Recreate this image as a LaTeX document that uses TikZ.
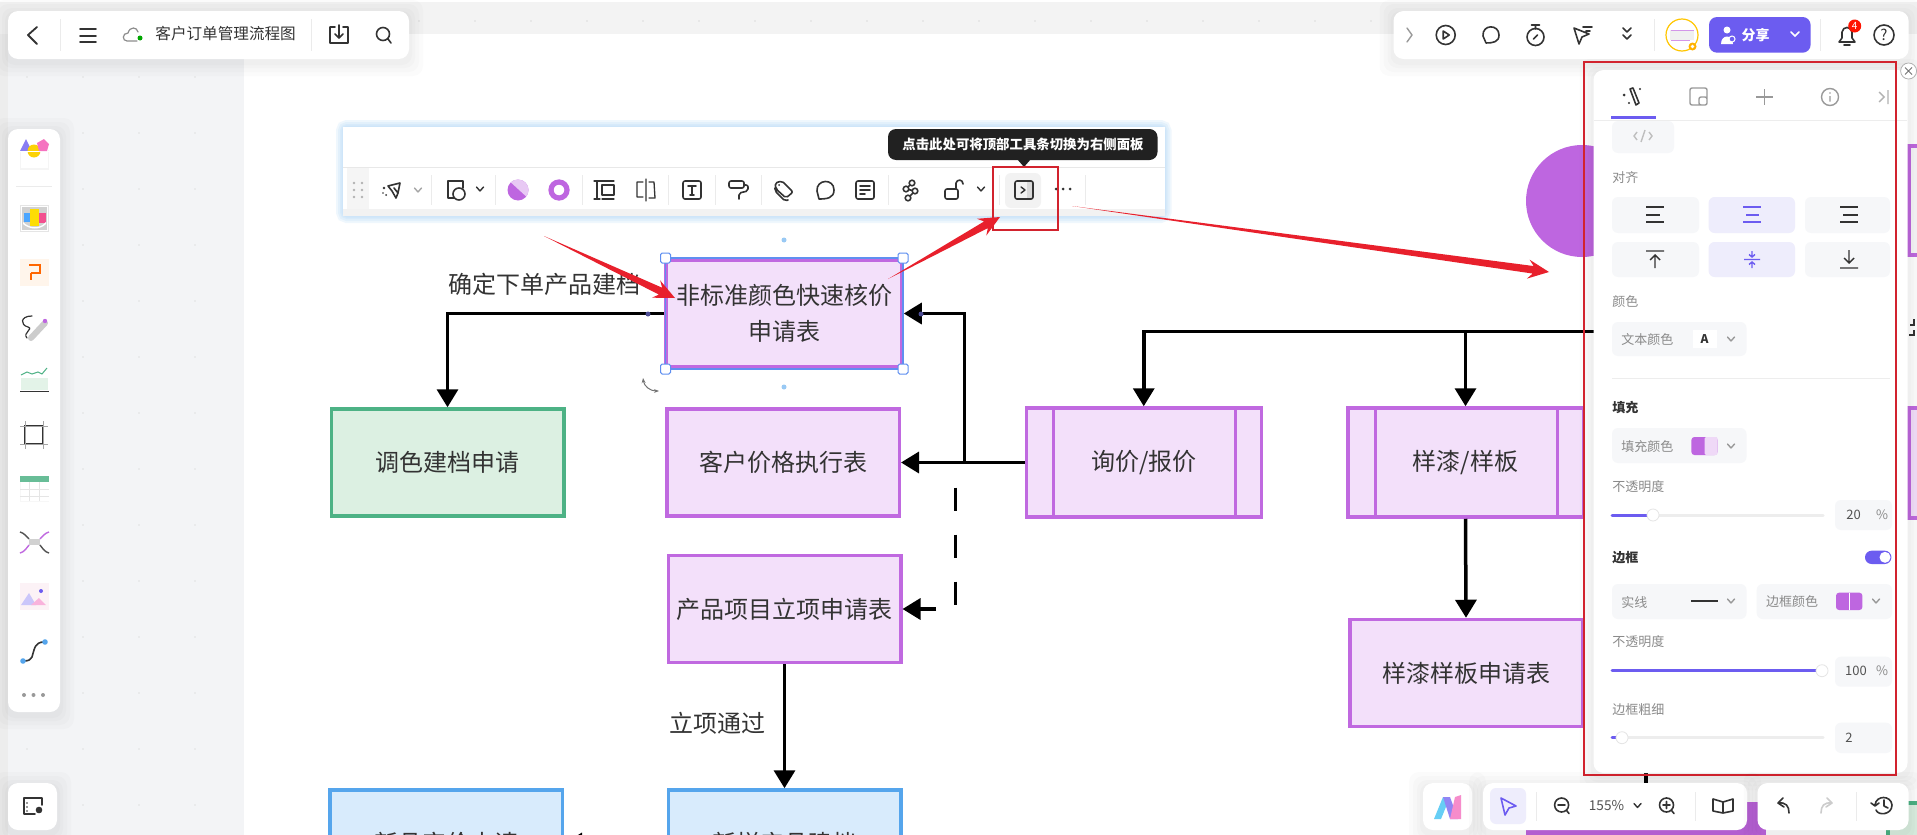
\documentclass[tikz,border=0pt]{standalone}
\usepackage{fontspec}
\setmainfont{Noto Sans CJK SC}
\usetikzlibrary{arrows.meta,calc}
\definecolor{canvas}{HTML}{F3F4F6}
\definecolor{topband}{HTML}{F3F3F3}
\definecolor{purp}{HTML}{C069E0}
\definecolor{purpfill}{HTML}{F3E0FA}
\definecolor{purpsolid}{HTML}{BE66E0}
\definecolor{grn}{HTML}{4DB285}
\definecolor{grnfill}{HTML}{DCF0E2}
\definecolor{blu}{HTML}{55A5EC}
\definecolor{blufill}{HTML}{D8EBFC}
\definecolor{sel}{HTML}{5F8FF0}
\definecolor{uiv}{HTML}{6C5CF0}
\definecolor{redbox}{HTML}{D2232E}
\definecolor{redar}{HTML}{E8202C}
\definecolor{btn}{HTML}{F6F7F9}
\definecolor{btnon}{HTML}{EEEDFC}
\definecolor{ink}{HTML}{333333}
\definecolor{uigray}{HTML}{8A8A8A}
\tikzset{
  box/.style={draw=purp,fill=purpfill,line width=1.75pt,align=center,text=ink,inner sep=0pt,
    font=\fontsize{12}{18}\selectfont,minimum width=116.25pt,minimum height=53.5pt},
  gbox/.style={box,draw=grn,fill=grnfill},
  bbox/.style={box,draw=blu,fill=blufill},
  lab/.style={text=ink,inner sep=0pt,anchor=west,font=\fontsize{12}{18}\selectfont},
  conn/.style={draw=black,line width=1.75pt,-{Triangle[length=9pt,width=10.5pt]}},
  plainline/.style={draw=black,line width=1.75pt},
  dashline/.style={conn,dash pattern=on 11.5pt off 12pt},
  ui/.style={inner sep=0pt,anchor=west,text=uigray,font=\fontsize{6.5}{8}\selectfont},
  uib/.style={ui,text=ink,font=\fontsize{6.5}{8}\selectfont\bfseries},
  uic/.style={ui,anchor=center},
  ico/.style={draw=ink,line width=.8pt,line cap=round,line join=round},
  sepl/.style={draw=black!8,line width=.5pt},
  track/.style={draw=black!7,line width=1.5pt,line cap=round},
  trackon/.style={draw=uiv,line width=1.5pt,line cap=round},
  knob/.style={fill=white,draw=black!10,line width=.4pt},
}
\newcommand\panel[5]{%
  \foreach \s in {14,10,6,3}{\fill[black,opacity=.014,rounded corners=#5pt] (#1-\s,#2-\s+3) rectangle (#3+\s,#4+\s+3);}%
  \fill[white,rounded corners=#5pt] (#1,#2) rectangle (#3,#4);}
\newcommand\chev[3]{\draw[ico,draw=#3,line width=.7pt] (#1-3.5,#2-2) -- (#1,#2+2) -- (#1+3.5,#2-2);}
\newcommand\vsep[3]{\draw[sepl] (#1,#2) -- (#1,#3);}
\newcommand\btnrect[5]{\fill[#5,rounded corners=3pt] (#1,#2) rectangle (#3,#4);}
\newcommand\redarrow[2]{%
  \fill[redar] (#1)
   -- ($(#2)!8pt!(#1)!1.9pt!90:(#1)$) -- ($(#2)!10.5pt!(#1)!4.8pt!90:(#1)$) -- (#2)
   -- ($(#2)!10.5pt!(#1)!-4.8pt!90:(#1)$) -- ($(#2)!8pt!(#1)!-1.9pt!90:(#1)$) -- cycle;}
\newcommand\slider[4]{% y, end of fill, value box top, bottom
  \draw[track] (1612,#1) -- (1823,#1);
  \draw[trackon] (1612,#1) -- (#2,#1);
  \fill[knob] (#2,#1) circle (6);
  \btnrect{1835}{#3}{1892}{#4}{btn}}
\begin{document}
\begin{tikzpicture}[x=0.5pt,y=-0.5pt]
\useasboundingbox (0,0) rectangle (1917,835);
\clip (0,0) rectangle (1917,835);
% ---------- canvas
\fill[canvas] (0,0) rectangle (1917,835);
\fill[black!7] (0,0) rectangle (8,835);
\fill[topband] (0,0) rectangle (1917,34);
\fill[white] (0,0) rectangle (1917,1.5);
\foreach \i in {0,...,33}{\fill[black!14] (27+56*\i,21) circle (.9);}
\foreach \i in {0,...,3}{\foreach \j in {1,...,14}{\fill[black!12] (27+56*\i,21+56*\j) circle (.9);}}
\fill[white] (244,34) rectangle (1917,835);
% ---------- background shapes
\fill[purpsolid] (1582,201) circle (56);
\fill[purpsolid] (1526,802) rectangle (1766,835);
\draw[draw=purp,fill=purpfill!80!black!12,line width=1.75pt] (1909,146) rectangle (1925,255);
\draw[draw=purp,fill=purpfill,line width=1.75pt] (1909,408) rectangle (1925,518);
\draw[draw=grn,fill=grnfill,line width=1.75pt] (1888,803) rectangle (1930,850);
\draw[draw=ink,line width=.6pt] (1910,325) -- (1914,325) -- (1914,319) (1909,335) -- (1914,335) -- (1914,330);
\draw[plainline] (1646,770) -- (1646,790);
% ---------- flowchart nodes
\node[box,minimum width=118pt] (hotq) at (784,313.5) {非标准颜色快速核价\\申请表};
\node[gbox] (tone) at (447.5,462.5) {调色建档申请};
\node[box] (price) at (783,462.5) {客户价格执行表};
\node[box,minimum width=117.5pt,minimum height=54.5pt] (ask) at (1143.75,462.5) {询价/报价};
\node[box,minimum width=117.75pt,minimum height=54.5pt] (sample) at (1465.5,462.5) {样漆/样板};
\node[box] (proj) at (784.5,609) {产品项目立项申请表};
\node[box] (sform) at (1466,673) {样漆样板申请表};
\node[bbox] (nprice) at (446,843.5) {新品审价申请};
\node[bbox] (nprod) at (784.5,843.5) {新样产品建档};
\draw[draw=purp,line width=1.5pt] (1053,408) -- (1053,517) (1235,408) -- (1235,517);
\draw[draw=purp,line width=1.5pt] (1375,408) -- (1375,517) (1557.5,408) -- (1557.5,517);
\node[lab] (l1) at (448,284) {确定下单产品建档};
\node[lab] (l2) at (669,723) {立项通过};
% ---------- connectors
\coordinate (jn) at (964.5,462.5);
\coordinate (dk) at (955.5,462.5);
\coordinate (trunkR) at (1600,331.7);
\coordinate (trunkB) at (1465.5,331.7);
\draw[dashline] (ask.west) -- (dk) |- (proj.east);
\draw[conn] (hotq.west) -| (tone.north);
\draw[conn] (ask.west) -- (price.east);
\draw[conn] (jn) |- (hotq.east);
\draw[conn] (trunkR) -| (ask.north);
\draw[conn] (trunkB) -- (sample.north);
\draw[conn] (sample.south) -- (sform.north);
\draw[conn] (proj.south) -- (nprod.north);
\draw[conn] (nprod.west) -- (nprice.east);
% ---------- selection
\draw[sel,line width=.9pt] (665.5,258) rectangle (903,369);
\foreach \p/\q in {665.5/258,903/258,665.5/369,903/369}{\draw[sel,fill=white,line width=.5pt,rounded corners=.8pt] (\p-5,\q-5) rectangle (\p+5,\q+5);}
\fill[blu!60] (784,240) circle (2.5);
\fill[blu!60] (784,387) circle (2.5);
\fill[blue!40!black!70] (648,314) circle (2.5);
\fill[blue!40!black!70] (921,314) circle (2.5);
\draw[black!55,line width=.5pt,{Stealth[length=2.5pt]}-{Stealth[length=2.5pt]}] (643,378) .. controls (644,386) and (650,391) .. (659,391);
% ---------- floating tool strip
\foreach \s in {7,5,3,1.5}{\draw[blu!55,opacity=.16,line width=\s*1pt,rounded corners=2pt] (343,127) rectangle (1164.5,216);}
\fill[white] (343,127) rectangle (1164.5,216);
\fill[black!5] (343,209) rectangle (1164.5,216);
\draw[black!9,line width=.5pt] (343,167) -- (1164.5,167);
\fill[black!4] (347,168) rectangle (369,209);
\foreach \px in {354,362}{\foreach \py in {183,190,197}{\fill[black!30] (\px,\py) circle (1.3);}}
\foreach \px in {431,495.5,582,668.6,715,761,888.6,999.6,1085}{\vsep{\px}{175}{205}}
% plane
\begin{scope}[shift={(393,190)}]
\draw[ico] (-5,-4) -- (7,-7) -- (5,3) -- (3,8) -- (-1,1) -- cycle (1,-2) -- (5,3);
\fill[ink] (-9,-2) circle (1.3) (-7,5) circle (1) (-10,3) circle (.9);
\end{scope}
\chev{418}{190}{black!35}
\begin{scope}[shift={(456,190)}]
\draw[ico] (3,8) -- (-8,8) -- (-8,-9) -- (7,-9) -- (7,-2);
\draw[ico,fill=white] (3,4) circle (6);
\end{scope}
\chev{480}{189}{ink}
\begin{scope}[shift={(518,190)}]
\fill[purpsolid] (0,0) circle (10.5);
\begin{scope}\clip (-12,-12) -- (12,-12) -- (12,10) -- cycle;\fill[purpsolid!35] (0,0) circle (10.5);\end{scope}
\end{scope}
\draw[purpsolid,line width=2.6pt] (559,190) circle (8);
\begin{scope}[shift={(605,190)}]
\draw[ico,line width=.65pt] (-5,-9) -- (9,-9) (-8,-9) -- (-8,9) (-3,-5) rectangle (9,5) (-11,9) -- (-5,9) (-11,-9) -- (-5,-9) (-3,9) -- (9,9);
\end{scope}
\begin{scope}[shift={(646,190)}]
\draw[ico,line width=.65pt] (0,-11) -- (0,11) (-3,-8) -- (-9,-8) -- (-9,7) -- (-3,7) (3,-8) -- (8,-8) -- (9,8) -- (3,8);
\end{scope}
\begin{scope}[shift={(692,190)}]
\draw[ico,rounded corners=1pt] (-9,-9) rectangle (9,9);
\draw[ico] (-4,-4) -- (4,-4) (0,-4) -- (0,5) (-2,5) -- (2,5);
\end{scope}
\begin{scope}[shift={(738,190)}]
\draw[ico,rounded corners=1pt] (-9,-9) rectangle (6,-2) (6,-5) -- (10,-5) -- (10,1) -- (1,3) -- (1,9);
\end{scope}
\begin{scope}[shift={(784,190)}]
\draw[ico,rounded corners=1pt] (-9,-7) -- (-2,-9) -- (9,2) -- (2,8) -- (-8,-1) -- cycle (-9,-2) -- (-9,1) -- (1,11) -- (4,10);
\fill[ink] (-5,-5) circle (1);
\end{scope}
\begin{scope}[shift={(825,190)}]
\draw[ico] (-6,9) -- (-8,1) .. controls (-9,-11) and (9,-12) .. (9,0) .. controls (9,8) and (2,9) .. (-6,9);
\end{scope}
\begin{scope}[shift={(865,190)}]
\draw[ico,rounded corners=1pt] (-9,-9) rectangle (9,9);
\draw[ico] (-5,-4) -- (5,-4) (-5,0) -- (5,0) (-5,4) -- (0,4);
\end{scope}
\begin{scope}[shift={(911,190)}]
\draw[ico] (1,-7) -- (-5,-1) -- (4,1) -- (-3,8);
\draw[ico,fill=white] (1,-7) circle (2.8) (-5,-1) circle (2.8) (4,1) circle (2.8) (-3,8) circle (2.8);
\end{scope}
\begin{scope}[shift={(952,190)}]
\draw[ico,rounded corners=1pt] (-7,-1) rectangle (6,9);
\draw[ico] (4,-1) -- (4,-7) .. controls (5,-11) and (11,-11) .. (11,-6);
\end{scope}
\chev{981}{189}{ink}
\btnrect{1005}{173}{1041}{208}{black!5}
\begin{scope}[shift={(1024,190)}]
\fill[black!15] (3,-8) rectangle (8,8);
\draw[ico,rounded corners=1pt] (-9,-9) rectangle (9,9);
\draw[ico,line width=.7pt] (-3,-3) -- (1,0) -- (-3,3);
\end{scope}
\fill[ink] (1056,189) circle (1.5) (1063,189) circle (1.5) (1070,189) circle (1.5);
% tooltip
\fill[black!87,rounded corners=4pt] (888,129) rectangle (1157.5,160);
\fill[black!87] (1017,159) -- (1031,159) -- (1024,167) -- cycle;
\node[inner sep=0pt,text=white,font=\fontsize{6.7}{8}\selectfont\bfseries] (tip) at (1023,144) {点击此处可将顶部工具条切换为右侧面板};
% red rectangle & arrows
\draw[redbox,line width=1pt] (992.6,167) rectangle (1058,230);
\coordinate (a1s) at (544,236); \coordinate (a1e) at (675,298);
\coordinate (a2s) at (888,279); \coordinate (a2e) at (1000,217);
\coordinate (a3s) at (1072,206); \coordinate (a3e) at (1549,272);
\redarrow{a1s}{a1e}\redarrow{a2s}{a2e}\redarrow{a3s}{a3e}
% ---------- top-left bar
\panel{8}{11}{409}{59}{5}
\vsep{60.5}{19}{51}\vsep{311.5}{19}{51}
\draw[ico,line width=.9pt] (37,27) -- (28,35) -- (37,44);
\draw[ico,line width=.9pt] (80,29) -- (96,29) (80,36) -- (96,36) (80,42) -- (96,42);
\draw[black!45,line width=.6pt,line cap=round] (137,41) -- (127,41) .. controls (122,41) and (122,33) .. (128,33) .. controls (130,26) and (137,27) .. (138,32);
\fill[green!65!black] (140,38) circle (2.5);
\node[ui,text=ink,font=\fontsize{7.8}{9}\selectfont] (title) at (155,34) {客户订单管理流程图};
\begin{scope}[shift={(339,35)}]
\draw[ico] (-4,-8) -- (-9,-8) -- (-9,8) -- (9,8) -- (9,-8) -- (4,-8) (0,-10) -- (0,3) (-4,-1) -- (0,3) -- (4,-1);
\end{scope}
\draw[ico] (383,34) circle (6.5) (388,39) -- (391,43);
% ---------- left bar
\panel{8}{129}{60}{712}{5}
\draw[black!8,line width=.5pt] (16,186.7) -- (52,186.7);
\fill[black!4] (20,150) rectangle (49,170);
\fill[white] (21,150) rectangle (48,168);
\fill[uiv!80] (20,151) -- (26,139) -- (32,151) -- cycle;
\fill[yellow!70!orange] (34,151) circle (6.5);
\fill[white] (18,151) rectangle (50,152);
\fill[magenta!55] (37,143) -- (44,139) -- (49,144) -- (47,151) -- (39,151) -- cycle;
\fill[black!10] (20,205) rectangle (49,232);
\fill[white] (21,206) rectangle (48,231);
\fill[black!18] (22,207) rectangle (47,230);
\fill[blue!50!cyan!70] (24,213) rectangle (34,222);
\fill[magenta!70!red!70] (36,213) rectangle (46,223);
\fill[yellow!80!orange] (30,209) rectangle (39,226);
\fill[white] (23,222) .. controls (30,229) and (40,229) .. (46,222) -- (46,224) .. controls (40,230) and (30,230) .. (23,224) -- cycle;
\fill[orange!8] (20,259) rectangle (49,286);
\draw[orange!80!red,line width=.8pt] (29,265) -- (40,265) -- (40,273) -- (31,273) (31,273) -- (31,280);
\draw[ink,line width=.6pt,line cap=round] (32,316) .. controls (20,316) and (20,325) .. (28,327) .. controls (34,329) and (22,333) .. (27,338);
\draw[black!20,line width=3pt,line cap=round] (31,338) -- (45,323);
\fill[purpsolid] (45,321) circle (2.2);
\fill[grnfill!80!white] (21,378) rectangle (48,390);
\draw[grn,line width=.5pt] (21,375) -- (27,372) -- (32,374) -- (38,372) -- (42,374) -- (47,368);
\draw[ink,line width=.7pt] (20,391.5) -- (49,391.5);
\begin{scope}[shift={(34,435)}]
\draw[ink,line width=.9pt] (-9,-9) rectangle (9,9);
\draw[black!35,line width=.5pt] (-14,-9) -- (14,-9) (-14,9) -- (14,9) (-9,-14) -- (-9,14) (9,-14) -- (9,14);
\end{scope}
\fill[black!3] (20,476) rectangle (49,502);
\fill[white] (20.5,476) rectangle (48.5,501);
\fill[grn!85] (20,476) rectangle (49,482);
\draw[black!10,line width=.4pt] (20,489) -- (49,489) (20,496) -- (49,496) (29,482) -- (29,501) (39,482) -- (39,501);
\fill[black!18] (29,539) rectangle (40,545);
\draw[ink!85,line width=.7pt] (20,532) .. controls (24,533) and (26,536) .. (29,539) (40,545) .. controls (43,549) and (45,552) .. (49,553);
\draw[purp,line width=.7pt] (49,532) .. controls (45,533) and (43,536) .. (40,539) (29,545) .. controls (26,549) and (24,552) .. (20,553);
\fill[purple!5] (20,583) rectangle (49,610);
\fill[uiv!35] (21,605) -- (29,593) -- (36,605) -- cycle;
\fill[magenta!30] (31,605) -- (39,598) -- (46,605) -- cycle;
\fill[uiv] (41,591) circle (2);
\draw[ink,line width=.8pt] (24,661) .. controls (34,661) and (32,654) .. (34,650) .. controls (36,643) and (40,642) .. (44,642);
\fill[blu] (23,661) circle (2.8) (45,642) circle (2.8);
\fill[black!40] (24,695) circle (2) (33.5,695) circle (2) (43,695) circle (2);
\panel{8}{783}{57}{830}{5}
\begin{scope}[shift={(33,806)}]
\draw[ico] (9,-1) -- (9,-8) -- (-9,-8) -- (-9,8) -- (2,8);
\fill[ink] (-6,-3) circle (.8) (-6,1) circle (.8) (-6,5) circle (.8);
\draw[ico,fill=ink] (6,4) circle (2.5);
\end{scope}
% ---------- top-right bar
\panel{1393.5}{11}{1908.6}{59}{5}
\draw[ico,draw=black!40,line width=.7pt] (1407,28) -- (1412,35) -- (1407,42);
\begin{scope}[shift={(1445.7,35)}]
\draw[ico] (0,0) circle (9.5) (-2.5,-4) -- (3.5,0) -- (-2.5,4) -- cycle;
\end{scope}
\begin{scope}[shift={(1491,35)}]
\draw[ico] (-5,8) -- (-8,1) .. controls (-9,-11) and (8,-11) .. (8,0) .. controls (8,7) and (2,8) .. (-5,8);
\end{scope}
\begin{scope}[shift={(1535.5,36)}]
\draw[ico] (0,1) circle (8.5) (-4,-11) -- (4,-11) (0,-11) -- (0,-7) (-2,3) -- (2,-1);
\end{scope}
\begin{scope}[shift={(1583,35)}]
\draw[ico] (-9,-7) -- (-4,9) -- (-1,2) -- (6,-1) -- cycle (0,-8) -- (9,-8) (3,-4) -- (7,-4);
\end{scope}
\draw[ico] (1623,28) -- (1627,32) -- (1631,28) (1623,35) -- (1627,39) -- (1631,35);
\vsep{1654}{19}{51}
\draw[orange!45!yellow,line width=.6pt,fill=white] (1682,35) circle (16);
\fill[black!6] (1670,30) rectangle (1694,40);
\draw[purp!70,line width=.4pt] (1671,30) -- (1694,30) (1671,40) -- (1690,40);
\fill[orange!60!yellow] (1692.5,46.5) circle (4);
\fill[white] (1692.5,46.5) circle (1.8);
\fill[uiv,rounded corners=4pt] (1709,17) rectangle (1810.6,52.7);
\fill[white] (1727,30) circle (3.5) (1721,44) .. controls (1721,34) and (1733,34) .. (1733,44) -- cycle;
\draw[white,line width=.5pt,fill=uiv] (1732,39) circle (3);
\node[uic,text=white,font=\fontsize{7}{8}\selectfont\bfseries] (share) at (1755.5,35.5) {分享};
\draw[white,line width=.8pt,line cap=round] (1791,32) -- (1795,36) -- (1799,32);
\vsep{1820}{19}{51}
\begin{scope}[shift={(1847,36)}]
\draw[ico] (-8,6) -- (-5,2) -- (-5,-4) .. controls (-4,-10) and (4,-10) .. (5,-4) -- (5,2) -- (8,6) -- cycle (-3,9) -- (3,9);
\end{scope}
\fill[red!85!orange] (1854.7,26) circle (6.5);
\node[uic,text=white,font=\fontsize{5}{6}\selectfont] (badge) at (1854.7,26) {4};
\draw[ico] (1884,35) circle (10);
\node[uic,text=ink,font=\fontsize{7.5}{8}\selectfont] (help) at (1884,35) {?};
% ---------- right panel
\panel{1593.5}{70}{1907.5}{773}{5}
\draw[black!30,line width=.4pt,fill=white] (1908.6,71) circle (8);
\draw[black!55,line width=.5pt] (1905,67.5) -- (1912,74.5) (1912,67.5) -- (1905,74.5);
\draw[black!7,line width=.5pt] (1594,120) -- (1907,120);
\fill[uiv] (1610.6,116) rectangle (1655.5,118.5);
\begin{scope}[shift={(1632,97)}]
\draw[ico] (-2,-8) -- (1,-9) -- (7,6) -- (4,8) -- cycle;
\fill[ink] (-8,-2) circle (1.5) (8,-8) circle (1.2) (-3,6) circle (1.2);
\end{scope}
\draw[black!40,line width=.7pt,rounded corners=1pt] (1690,88) rectangle (1707,105) (1699,97) rectangle (1707,105);
\draw[black!40,line width=.7pt] (1756,97) -- (1773,97) (1764.5,89) -- (1764.5,105);
\draw[black!40,line width=.7pt] (1830,97) circle (8.5) (1830,96) -- (1830,101.5);
\fill[black!40] (1830,93) circle (.9);
\draw[black!30,line width=.7pt] (1879,92) -- (1884,97) -- (1879,102) (1888,90) -- (1888,104);
\btnrect{1612}{121}{1674}{153}{btn}
\draw[black!25,line width=.7pt] (1637,132) -- (1634,136) -- (1637,140) (1649,132) -- (1652,136) -- (1649,140) (1645,130) -- (1641,142);
\node[ui] (tAlign) at (1612,178) {对齐};
\foreach \xa/\xb/\yc/\yd/\cc in {1612/1699/197/233/btn,1708.6/1795/197/233/btnon,1805/1890/197/233/btn,1612/1699/242/277/btn,1708.6/1795/242/277/btnon,1805/1890/242/277/btn}{\btnrect{\xa}{\yc}{\xb}{\yd}{\cc}}
\draw[ink,line width=.7pt] (1646,207) -- (1664,207) (1646,215) -- (1660,215) (1646,222) -- (1664,222);
\draw[uiv,line width=.7pt] (1743,207) -- (1761,207) (1746,215) -- (1759,215) (1743,222) -- (1761,222);
\draw[ink,line width=.7pt] (1840,207) -- (1858,207) (1843,215) -- (1858,215) (1840,222) -- (1858,222);
\draw[ink,line width=.7pt] (1646,251) -- (1664,251) (1655,268) -- (1655,255) (1650,260) -- (1655,255) -- (1660,260);
\draw[uiv,line width=.7pt] (1744,259.5) -- (1760,259.5) (1752,251) -- (1752,257) (1749,254.5) -- (1752,257) -- (1755,254.5) (1752,268) -- (1752,262) (1749,264.5) -- (1752,262) -- (1755,264.5);
\draw[ink,line width=.7pt] (1840,268) -- (1858,268) (1849,250) -- (1849,263) (1844,258) -- (1849,263) -- (1854,258);
\node[ui] (tColor) at (1612,302) {颜色};
\btnrect{1612}{322}{1746.5}{356}{btn}
\node[ui] (tTextc) at (1621,340) {文本颜色};
\fill[white] (1693,330) rectangle (1717,348);
\node[uic,text=ink,font=\fontsize{6}{7}\selectfont\bfseries] (tA) at (1704.5,339) {A};
\chev{1731}{339}{black!40}
\draw[black!7,line width=.5pt] (1612,378) -- (1890,378);
\node[uib] (tFill) at (1612,408) {填充};
\btnrect{1612}{428}{1746.5}{463}{btn}
\node[ui] (tFillc) at (1621,447) {填充颜色};
\fill[purpsolid,rounded corners=1.5pt] (1691.4,437) rectangle (1717.5,455);
\fill[purpsolid!25!white,rounded corners=1pt] (1704.5,437) rectangle (1717.5,455);
\chev{1731}{446}{black!40}
\node[ui] (tOp1) at (1612,487) {不透明度};
\slider{515}{1653}{500}{530}
\node[uic,text=ink!85] (v20) at (1853.5,515) {20};
\node[uic] (p20) at (1882,515) {\%};
\node[uib] (tBorder) at (1612,558) {边框};
\fill[uiv,rounded corners=3.3pt] (1865,550.7) rectangle (1891.4,564);
\fill[white] (1885,557.3) circle (5.5);
\btnrect{1612}{584}{1746.5}{619}{btn}
\node[ui] (tSolid) at (1621,602) {实线};
\draw[ink,line width=.7pt] (1691.4,601) -- (1717.5,601);
\chev{1731}{601}{black!40}
\btnrect{1756.7}{584}{1892}{619}{btn}
\node[ui] (tBc) at (1765.7,602) {边框颜色};
\fill[purpsolid,rounded corners=1.5pt] (1836,592.7) rectangle (1862.4,610);
\draw[white,line width=.4pt] (1849.2,592.7) -- (1849.2,610);
\chev{1876}{601}{black!40}
\node[ui] (tOp2) at (1612,642) {不透明度};
\slider{670.7}{1822}{656.7}{686.7}
\node[uic,text=ink!85] (v100) at (1856,671) {100};
\node[uic] (p100) at (1882,671) {\%};
\node[ui] (tBw) at (1612,710) {边框粗细};
\slider{737.7}{1622}{722.7}{753}
\node[uic,text=ink!85] (v2) at (1849,738) {2};
\draw[redbox,line width=1pt] (1583.7,61.7) rectangle (1895.5,775);
% ---------- bottom bar
\panel{1423}{783}{1472}{830}{5}
\fill[cyan!60] (1434,819) -- (1443,797) -- (1450,797) -- (1441,819) -- cycle;
\fill[uiv!75] (1443,797) -- (1450,797) -- (1458,819) -- (1450,819) -- cycle;
\fill[magenta!45] (1450,819) -- (1455,797) -- (1461,795) -- (1461,819) -- cycle;
\panel{1483}{783}{1747}{830}{5}
\btnrect{1490}{788}{1526}{824}{btnon}
\draw[uiv,line width=.8pt,line join=round] (1501,798) -- (1516,806) -- (1509,808) -- (1505,815) -- cycle;
\vsep{1536}{792}{821}
\draw[ico] (1561.6,805) circle (7) (1558,805) -- (1565,805) (1566.5,810.5) -- (1569,813.5);
\node[uic,text=ink!85,font=\fontsize{6.8}{8}\selectfont] (zoomv) at (1606.5,806) {155\%};
\chev{1637.5}{805.5}{ink}
\draw[ico] (1666.5,805) circle (7) (1663,805) -- (1670,805) (1666.5,801.5) -- (1666.5,808.5) (1671.5,810.5) -- (1674,813.5);
\vsep{1695.5}{792}{821}
\draw[ico] (1713,799) -- (1723,802) -- (1733,799) -- (1733,811) -- (1723,813) -- (1713,811) -- cycle (1723,802) -- (1723,813);
\panel{1757.5}{783}{1908.6}{830}{5}
\draw[ico] (1778,803) -- (1783,798) (1778,803) -- (1784,807) (1778,803) .. controls (1786,802) and (1789,806) .. (1789,813);
\draw[black!20,line width=.8pt,line cap=round,line join=round] (1832,803) -- (1827,798) (1832,803) -- (1826,807) (1832,803) .. controls (1824,802) and (1821,806) .. (1821,813);
\vsep{1856}{792}{821}
\draw[ico] (1875,805) .. controls (1876,795) and (1891,795) .. (1892,805) .. controls (1892,815) and (1878,816) .. (1876,810) (1871,803) -- (1875,806) -- (1879,803) (1884,800) -- (1884,806) -- (1888,808);
\end{tikzpicture}
\end{document}
